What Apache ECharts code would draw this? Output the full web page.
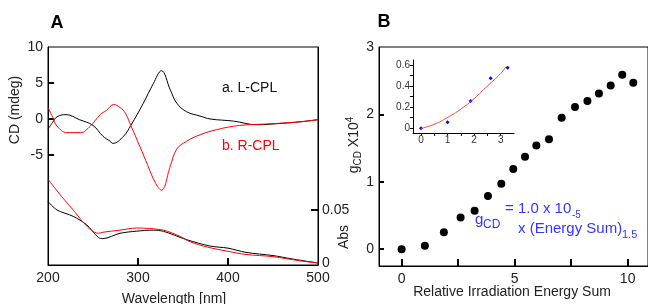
<!DOCTYPE html>
<html>
<head>
<meta charset="utf-8">
<script src="https://cdn.jsdelivr.net/npm/echarts@6/dist/echarts.min.js"></script>
<style>
  html, body { margin: 0; padding: 0; background: #fff; }
  #main { width: 648px; height: 304px; }
</style>
</head>
<body>
<div id="main"></div>
<script>
// panel A: CD spectra (mdeg) vs wavelength
var cdWaveL = [200, 205, 210, 220, 235, 250, 261, 269, 272, 284, 292, 306, 317, 326, 336, 343, 354, 369, 380, 406, 432, 461, 480, 500];
var cdLeft  = [-1.4, -0.5, 0.3, 0.6, -0.1, -0.9, -2.4, -3.1, -3.4, -2.4, -0.9, 2.2, 4.9, 6.7, 4.0, 2.2, 1.0, 0.4, 0.0, -0.3, -0.8, -0.6, -0.4, -0.1];
var cdWaveR = [200, 205, 210, 221, 236, 247, 258, 265, 273, 280, 286, 292, 302, 311, 319, 326, 336, 343, 354, 369, 387, 413, 443, 480, 500];
var cdRight = [1.6, 0.3, -1.0, -1.9, -1.9, -1.0, 0.6, 1.2, 2.0, 1.6, 0.8, -0.9, -3.8, -6.5, -8.8, -9.9, -6.5, -4.2, -3.1, -2.2, -1.5, -0.9, -0.7, -0.4, -0.1];

// panel A: absorbance
var absWaveL = [200, 210, 228, 243, 256, 261, 280, 298, 317, 328, 354, 380, 400, 420, 450, 470, 500];
var absLeft  = [0.058, 0.050, 0.044, 0.036, 0.024, 0.023, 0.028, 0.030, 0.031, 0.030, 0.022, 0.016, 0.014, 0.010, 0.007, 0.004, 0.000];
var absWaveR = [200, 224, 256, 261, 280, 298, 328, 347, 358, 377, 400, 420, 450, 480, 500];
var absRight = [0.079, 0.054, 0.028, 0.029, 0.031, 0.033, 0.031, 0.025, 0.020, 0.015, 0.011, 0.008, 0.006, 0.002, 0.000];

// panel B: g_CD x10^4 vs relative irradiation energy sum
var energy = [0, 1.03, 1.87, 2.61, 3.23, 3.82, 4.41, 4.94, 5.46, 5.96, 6.52, 7.08, 7.67, 8.22, 8.73, 9.25, 9.76, 10.25];
var gcd    = [0, 0.05, 0.25, 0.47, 0.57, 0.79, 0.97, 1.19, 1.37, 1.54, 1.63, 1.95, 2.11, 2.20, 2.31, 2.43, 2.59, 2.47];

// inset
var insetX   = [0, 1.0, 1.87, 2.62, 3.26];
var insetY   = [-0.003, 0.055, 0.257, 0.473, 0.575];
var fitX     = [0, 0.5, 1, 1.5, 2, 2.5, 3, 3.22];
var fitY     = [-0.005, 0.035, 0.1, 0.18, 0.28, 0.40, 0.52, 0.59];

function pairs(xs, ys) {
  return xs.map(function (x, i) { return [x, ys[i]]; });
}

var FONT = 'Liberation Sans, Arial, sans-serif';
var BLUE = '#3535ff';

var myChart = echarts.init(document.getElementById('main'));

var line = { onZero: false, lineStyle: { color: '#000' } };

var option = {
  animation: false,
  textStyle: { fontFamily: FONT },
  grid: [
    { left: 48, top: 47, width: 270, height: 218, show: true, borderColor: '#000', borderWidth: 1 },
    { left: 379, top: 47, width: 271, height: 219, show: true, borderColor: '#000', borderWidth: 1 },
    { left: 413, top: 60, width: 101, height: 73 }
  ],
  xAxis: [
    {
      gridIndex: 0, type: 'value', min: 200, max: 500, axisLine: line,
      axisTick: { inside: true, length: 7, lineStyle: { color: '#000', width: 2 }, customValues: [300, 400] },
      axisLabel: { customValues: [200, 300, 400, 500], fontSize: 14, color: '#222', margin: 6 },
      splitLine: { show: false }
    },
    {
      gridIndex: 1, type: 'value', min: -1, max: 10.9, axisLine: line,
      axisTick: { inside: true, length: 7, lineStyle: { color: '#000', width: 2 }, customValues: [0, 2.5, 5, 7.5, 10] },
      axisLabel: { customValues: [0, 5, 10], fontSize: 14, color: '#222', margin: 6 },
      splitLine: { show: false }
    },
    {
      gridIndex: 2, type: 'value', min: -0.3, max: 3.5, axisLine: line,
      axisTick: { inside: false, length: 3, lineStyle: { color: '#000' }, customValues: [0, 0.5, 1, 1.5, 2, 2.5, 3] },
      axisLabel: { customValues: [0, 1, 2, 3], fontSize: 10, color: '#333', margin: 2 },
      splitLine: { show: false }
    }
  ],
  yAxis: [
    {
      gridIndex: 0, type: 'value', min: -20.3, max: 10, axisLine: line,
      axisTick: { inside: true, length: 6, lineStyle: { color: '#000', width: 2 }, customValues: [-5, 0, 5] },
      axisLabel: { customValues: [-5, 0, 5, 10], fontSize: 14, color: '#222', margin: 5 },
      splitLine: { show: false }
    },
    {
      gridIndex: 0, type: 'value', position: 'right', min: -0.0019, max: 0.2038, axisLine: line,
      axisTick: { inside: true, length: 7, lineStyle: { color: '#000', width: 2 }, customValues: [0.05] },
      axisLabel: { customValues: [0, 0.05], fontSize: 14, color: '#222', margin: 4 },
      splitLine: { show: false }
    },
    {
      gridIndex: 1, type: 'value', min: -0.25, max: 3, axisLine: line,
      axisTick: { inside: true, length: 5, lineStyle: { color: '#000', width: 2 }, customValues: [0, 1, 2] },
      axisLabel: { customValues: [0, 1, 2, 3], fontSize: 14, color: '#222', margin: 5 },
      splitLine: { show: false }
    },
    {
      gridIndex: 2, type: 'value', min: -0.048, max: 0.648, axisLine: line,
      axisTick: { inside: false, length: 3, lineStyle: { color: '#000' }, customValues: [0, 0.1, 0.2, 0.3, 0.4, 0.5, 0.6] },
      axisLabel: { customValues: [0, 0.2, 0.4, 0.6], fontSize: 10, color: '#333', margin: 3 },
      splitLine: { show: false }
    }
  ],
  series: [
    {
      name: 'a. L-CPL', type: 'line', xAxisIndex: 0, yAxisIndex: 0, smooth: 0.4, showSymbol: false,
      lineStyle: { color: '#000', width: 1 }, data: pairs(cdWaveL, cdLeft)
    },
    {
      name: 'b. R-CPL', type: 'line', xAxisIndex: 0, yAxisIndex: 0, smooth: 0.4, showSymbol: false,
      lineStyle: { color: '#ff0000', width: 1 }, data: pairs(cdWaveR, cdRight)
    },
    {
      name: 'Abs L', type: 'line', xAxisIndex: 0, yAxisIndex: 1, smooth: 0.3, showSymbol: false,
      lineStyle: { color: '#000', width: 1 }, data: pairs(absWaveL, absLeft)
    },
    {
      name: 'Abs R', type: 'line', xAxisIndex: 0, yAxisIndex: 1, smooth: 0.3, showSymbol: false,
      lineStyle: { color: '#ff0000', width: 1 }, data: pairs(absWaveR, absRight)
    },
    {
      name: 'gCD', type: 'scatter', xAxisIndex: 1, yAxisIndex: 2, symbolSize: 8,
      itemStyle: { color: '#000', opacity: 1 }, data: pairs(energy, gcd)
    },
    {
      name: 'fit', type: 'line', xAxisIndex: 2, yAxisIndex: 3, smooth: true, showSymbol: false,
      lineStyle: { color: '#ff4040', width: 1 }, data: pairs(fitX, fitY)
    },
    {
      name: 'inset', type: 'scatter', xAxisIndex: 2, yAxisIndex: 3, symbolSize: 4, symbol: 'diamond',
      itemStyle: { color: '#0000ff', opacity: 1 }, data: pairs(insetX, insetY)
    }
  ],
  graphic: [
    { type: 'text', x: 57, y: 23, style: { text: 'A', font: 'bold 18px ' + FONT, fill: '#000', align: 'center', verticalAlign: 'middle' } },
    { type: 'text', x: 384, y: 22, style: { text: 'B', font: 'bold 18px ' + FONT, fill: '#000', align: 'center', verticalAlign: 'middle' } },
    { type: 'text', x: 15, y: 110, rotation: Math.PI / 2, style: { text: 'CD (mdeg)', font: '14px ' + FONT, fill: '#222', align: 'center', verticalAlign: 'middle' } },
    { type: 'text', x: 344, y: 237, rotation: Math.PI / 2, style: { text: 'Abs', font: '14px ' + FONT, fill: '#222', align: 'center', verticalAlign: 'middle' } },
    { type: 'text', x: 174, y: 299, style: { text: 'Wavelength [nm]', font: '14px ' + FONT, fill: '#222', align: 'center', verticalAlign: 'middle' } },
    { type: 'text', x: 512, y: 292, style: { text: 'Relative Irradiation Energy Sum', font: '14px ' + FONT, fill: '#222', align: 'center', verticalAlign: 'middle' } },
    { type: 'text', x: 222, y: 88, style: { text: 'a. L-CPL', font: '14px ' + FONT, fill: '#111', verticalAlign: 'middle' } },
    { type: 'text', x: 222, y: 146, style: { text: 'b. R-CPL', font: '14px ' + FONT, fill: '#ff0000', verticalAlign: 'middle' } },
    {
      type: 'text', x: 354, y: 145, rotation: Math.PI / 2,
      style: {
        text: '{n|g}{s|CD}{n| X10}{p|4}', align: 'center', verticalAlign: 'middle', fill: '#222',
        rich: {
          n: { fontSize: 14, fontFamily: FONT, fill: '#222', lineHeight: 18, verticalAlign: 'middle' },
          s: { fontSize: 10, fontFamily: FONT, fill: '#222', lineHeight: 18, verticalAlign: 'bottom' },
          p: { fontSize: 10, fontFamily: FONT, fill: '#222', lineHeight: 18, verticalAlign: 'top' }
        }
      }
    },
    { type: 'text', x: 475, y: 220, style: { text: 'g', font: '15px ' + FONT, fill: BLUE, verticalAlign: 'middle' } },
    { type: 'text', x: 483, y: 225, style: { text: 'CD', font: '12px ' + FONT, fill: BLUE, verticalAlign: 'middle' } },
    { type: 'text', x: 505, y: 209, style: { text: '= 1.0 x 10', font: '15px ' + FONT, fill: BLUE, verticalAlign: 'middle' } },
    { type: 'text', x: 572, y: 215, style: { text: '-5', font: '10px ' + FONT, fill: BLUE, verticalAlign: 'middle' } },
    { type: 'text', x: 518, y: 229, style: { text: 'x (Energy Sum)', font: '15px ' + FONT, fill: BLUE, verticalAlign: 'middle' } },
    { type: 'text', x: 622, y: 235, style: { text: '1.5', font: '11px ' + FONT, fill: BLUE, verticalAlign: 'middle' } }
  ]
};

myChart.setOption(option);
</script>
</body>
</html>
